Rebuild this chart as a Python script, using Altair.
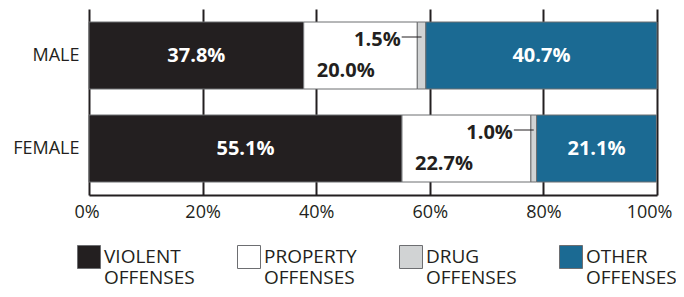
import altair as alt
import pandas as pd

genders = ["MALE", "FEMALE"]
categories = ["VIOLENT OFFENSES", "PROPERTY OFFENSES", "DRUG OFFENSES", "OTHER OFFENSES"]
male_values = [37.8, 20.0, 1.5, 40.7]
female_values = [55.1, 22.7, 1.0, 21.1]
colors = ["#231f20", "#ffffff", "#d1d3d4", "#1b6a93"]
tick_values = [0, 20, 40, 60, 80, 100]

rows = []
for g, vals in zip(genders, [male_values, female_values]):
    for i, (c, v) in enumerate(zip(categories, vals)):
        rows.append({"gender": g, "cat": c, "order": i, "value": v})
df = pd.DataFrame(rows)

FONT = "Open Sans"
DARK = "#231f20"

base = alt.Chart(df).transform_stack(
    stack="value", groupby=["gender"], as_=["start", "end"],
    sort=[alt.SortField("order", order="ascending")]
).transform_calculate(
    mid="(datum.start + datum.end) / 2",
    lead="(datum.start + datum.end) / 2 - 3.5",
    lab="format(datum.value, '.1f') + '%'"
)

y_enc = alt.Y(
    "gender:N", sort=genders, title=None,
    scale=alt.Scale(paddingInner=0, paddingOuter=0),
    axis=alt.Axis(domain=False, ticks=False, labelPadding=10, labelFontSize=18,
                  labelFont=FONT, labelColor=DARK, grid=False)
)

bars = base.mark_bar(size=67, stroke="#6d6e71", strokeWidth=1).encode(
    x=alt.X("start:Q", title=None,
            scale=alt.Scale(domain=[0, 100], nice=False),
            axis=alt.Axis(values=tick_values, labelExpr="datum.value + '%'",
                          grid=True, gridColor=DARK, gridWidth=2, gridOpacity=1,
                          domain=True, domainColor=DARK, domainWidth=2,
                          ticks=False, labelPadding=8, labelFontSize=18,
                          labelFlush=True, labelFlushOffset=15,
                          labelFont=FONT, labelColor=DARK)),
    x2="end:Q",
    y=y_enc,
    color=alt.Color("cat:N", scale=alt.Scale(domain=categories, range=colors),
                    legend=alt.Legend(title=None, orient="none", legendX=-12, legendY=236,
                                      direction="horizontal", columns=4,
                                      symbolType="square", symbolSize=529,
                                      symbolStrokeColor="#6d6e71", symbolStrokeWidth=1,
                                      symbolOpacity=1,
                                      labelFont=FONT, labelFontSize=19, labelColor=DARK,
                                      labelExpr="split(datum.label, ' ')",
                                      labelOffset=3, columnPadding=40, padding=0,
                                      labelLimit=200)),
    order=alt.Order("order:Q"),
)

white_labels = base.transform_filter("datum.order == 0 || datum.order == 3").mark_text(
    color="white", fontWeight="bold", fontSize=20, font=FONT
).encode(x="mid:Q", y=alt.Y("gender:N", sort=genders), text="lab:N")

prop_labels = base.transform_filter("datum.order == 1").mark_text(
    color=DARK, fontWeight="bold", fontSize=20, font=FONT, align="left", dx=13, dy=15
).encode(x="start:Q", y=alt.Y("gender:N", sort=genders), text="lab:N")

drug_labels = base.transform_filter("datum.order == 2").mark_text(
    color=DARK, fontWeight="bold", fontSize=20, font=FONT, align="right", dx=-1, dy=-16
).encode(x="lead:Q", y=alt.Y("gender:N", sort=genders), text="lab:N")

drug_rules = base.transform_filter("datum.order == 2").mark_rule(
    color=DARK, strokeWidth=1, yOffset=-18.5
).encode(x="lead:Q", x2="mid:Q", y=alt.Y("gender:N", sort=genders))

chart = alt.layer(bars, white_labels, prop_labels, drug_labels, drug_rules).properties(
    width=568, height=186,
    autosize=alt.AutoSizeParams(type="none"),
    padding={"left": 81, "top": 1, "right": 19, "bottom": 94},
).configure_view(stroke=None)

chart.save("out.html", embed_options={"renderer": "svg", "actions": False})
